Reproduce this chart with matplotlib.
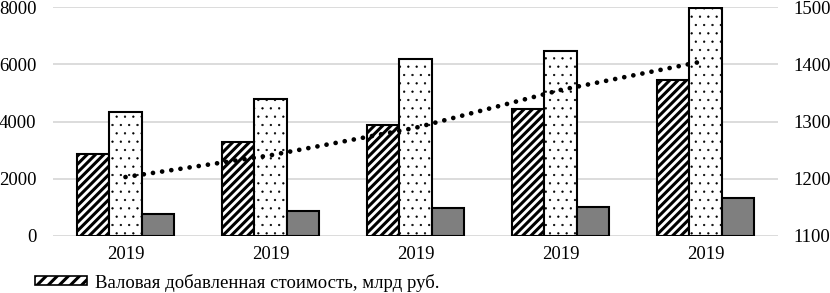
import matplotlib
matplotlib.use("Agg")
import matplotlib.pyplot as plt
import numpy as np
from matplotlib.patches import Patch

plt.rcParams["font.family"] = ["Liberation Serif", "DejaVu Serif"]
plt.rcParams["font.size"] = 13.5

# data
years = ["2019", "2019", "2019", "2019", "2019"]
gva = [2860, 3290, 3890, 4440, 5450]          # hatched bars
dotted_vals = [4330, 4790, 6190, 6480, 7960]  # dotted bars
grey_vals = [770, 860, 970, 1030, 1320]       # grey bars
line_vals = [1203, 1241, 1289, 1355, 1406]    # right axis, dotted line
legend_label = "Валовая добавленная стоимость, млрд руб."

x = np.arange(len(years))
w = 0.222

fig = plt.figure(figsize=(8.3, 2.93), dpi=100)
ax = fig.add_axes([53 / 830, 1 - 236 / 293, 725 / 830, 229 / 293])

# hatch linewidth is picked up per artist when it is created
plt.rcParams["hatch.linewidth"] = 2.2
ax.bar(x - w, gva, w, color="white", edgecolor="black", hatch="////",
       linewidth=1.5, zorder=3)

plt.rcParams["hatch.linewidth"] = 0.4
ax.bar(x, dotted_vals, w, color="white", edgecolor="black", hatch="..",
       linewidth=1.5, zorder=3)
ax.bar(x + w, grey_vals, w, color="#7f7f7f", edgecolor="black",
       linewidth=1.5, zorder=3)

ax.set_xlim(-0.5, len(years) - 0.5)
ax.set_ylim(0, 8000)
ax.set_yticks(np.arange(0, 8001, 2000))
ax.set_xticks(x)
ax.set_xticklabels(years)
ax.grid(axis="y", color="#d9d9d9", linewidth=1.3, zorder=0)
ax.tick_params(axis="y", length=0, pad=12)
ax.tick_params(axis="x", length=0, pad=7)
for s in ax.spines.values():
    s.set_visible(False)

ax2 = ax.twinx()
ax2.plot(x, line_vals, color="black", linewidth=3.4,
         linestyle=(0, (0.01, 1.95)), dash_capstyle="round", zorder=5)
ax2.set_ylim(1100, 1500)
ax2.set_yticks(np.arange(1100, 1501, 100))
ax2.tick_params(axis="y", length=0, pad=11)
for s in ax2.spines.values():
    s.set_visible(False)

plt.rcParams["hatch.linewidth"] = 2.2
handle = Patch(facecolor="white", edgecolor="black", hatch="///", linewidth=1.2)
fig.legend([handle], [legend_label], loc="center left",
           bbox_to_anchor=(35 / 830, 1 - 282.5 / 293), frameon=False,
           borderpad=0, borderaxespad=0, handlelength=2.77,
           handleheight=0.37, handletextpad=0.43)

fig.savefig("out.png", dpi=100)
